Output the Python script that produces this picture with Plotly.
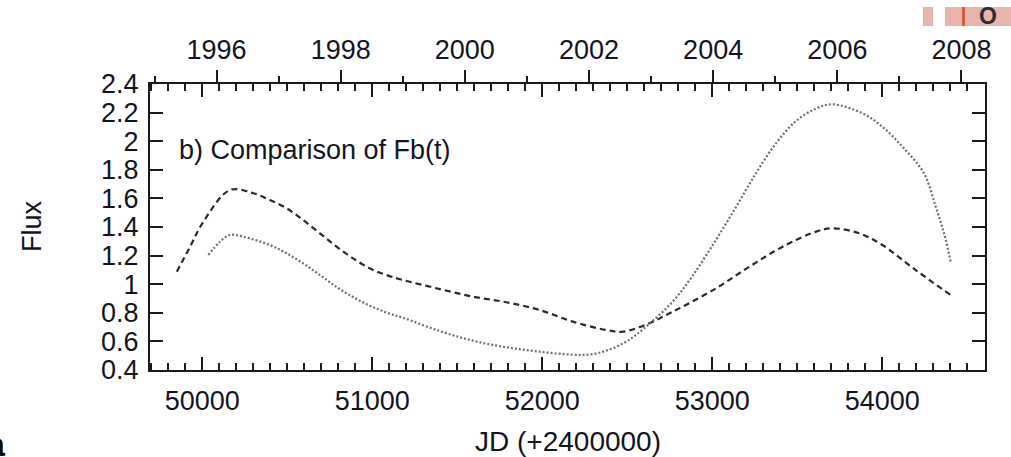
import datetime as dt
import plotly.graph_objects as go

# ---- data ----
jd_dashed = [49850, 49928, 50006, 50163, 50300, 50397, 50496, 50593, 50692, 50790,
             50887, 50985, 51083, 51181, 51397, 51592, 51788, 51984, 52180, 52376,
             52474, 52630, 52729, 52826, 53022, 53218, 53414, 53610, 53707, 53864,
             54001, 54197, 54403]
flux_dashed = [1.087, 1.262, 1.437, 1.659, 1.636, 1.589, 1.531, 1.449, 1.356, 1.262,
               1.181, 1.111, 1.064, 1.029, 0.966, 0.913, 0.874, 0.82, 0.738, 0.68,
               0.668, 0.727, 0.785, 0.843, 0.971, 1.122, 1.262, 1.367, 1.391, 1.356,
               1.274, 1.099, 0.924]

jd_dotted = [50035, 50104, 50163, 50241, 50397, 50496, 50593, 50692, 50790, 50887,
             50985, 51083, 51181, 51397, 51592, 51788, 51984, 52180, 52278, 52376,
             52493, 52611, 52767, 52885, 53022, 53140, 53257, 53375, 53492, 53610,
             53707, 53884, 54001, 54119, 54246, 54315, 54364, 54403]
flux_dotted = [1.204, 1.297, 1.344, 1.332, 1.274, 1.216, 1.146, 1.064, 0.98, 0.91,
               0.85, 0.802, 0.765, 0.672, 0.605, 0.559, 0.528, 0.507, 0.508, 0.535,
               0.598, 0.703, 0.878, 1.06, 1.31, 1.54, 1.775, 1.985, 2.14, 2.228,
               2.258, 2.195, 2.101, 1.962, 1.775, 1.542, 1.356, 1.157]

major_years = [1996, 1998, 2000, 2002, 2004, 2006, 2008]
minor_years = [1995, 1997, 1999, 2001, 2003, 2005, 2007]

x_range = [49692, 54605]
y_range = [0.4, 2.4]


def year_to_jd(y):
    # JD - 2400000 at 1 Jan of year y  (MJD + 0.5)
    return (dt.date(y, 1, 1) - dt.date(1858, 11, 17)).days + 0.5


FONT = "Liberation Sans, Arial, sans-serif"
TXT = "#14141f"

fig = go.Figure()
fig.add_trace(go.Scatter(x=jd_dashed, y=flux_dashed, mode="lines",
                         line=dict(color="#2a2a2a", width=2.2, dash="6px,4px",
                                   shape="spline", smoothing=1.0),
                         hoverinfo="skip", showlegend=False))
fig.add_trace(go.Scatter(x=jd_dotted, y=flux_dotted, mode="lines",
                         line=dict(color="#6e6e6e", width=2.2, dash="2px,2px",
                                   shape="spline", smoothing=1.0),
                         hoverinfo="skip", showlegend=False))
# invisible copy so the top (year) axis is drawn
fig.add_trace(go.Scatter(x=jd_dashed, y=flux_dashed, mode="lines", xaxis="x2",
                         line=dict(width=0), opacity=0, hoverinfo="skip", showlegend=False))

fig.update_layout(
    width=1011, height=457,
    margin=dict(l=150, r=26, t=84, b=87),
    paper_bgcolor="white", plot_bgcolor="white",
    font=dict(family=FONT, size=27, color=TXT),
    xaxis=dict(range=x_range, showgrid=False, zeroline=False,
               showline=True, linewidth=2, linecolor="#1a1a1a", mirror="ticks",
               ticks="inside", ticklen=13, tickwidth=2, tickcolor="#1a1a1a",
               tick0=0, dtick=1000, tickformat="d", ticklabelstandoff=6,
               minor=dict(ticks="inside", ticklen=7, tickwidth=2, dtick=100, tick0=0,
                          tickcolor="#1a1a1a"),
               tickfont=dict(size=27, color=TXT)),
    xaxis2=dict(overlaying="x", side="top", anchor="y", matches="x",
                showgrid=False, zeroline=False, showline=False,
                tickmode="array", tickvals=[year_to_jd(y) for y in major_years],
                ticktext=[str(y) for y in major_years],
                ticks="outside", ticklen=13, tickwidth=2, tickcolor="#1a1a1a",
                minor=dict(ticks="outside", ticklen=7, tickwidth=2, tickcolor="#1a1a1a",
                           tickmode="array", tickvals=[year_to_jd(y) for y in minor_years]),
                tickfont=dict(size=27, color=TXT)),
    yaxis=dict(range=y_range, showgrid=False, zeroline=False,
               showline=True, linewidth=2, linecolor="#1a1a1a", mirror="ticks",
               ticks="inside", ticklen=13, tickwidth=2, tickcolor="#1a1a1a",
               tick0=0.4, dtick=0.2, ticklabelstandoff=4,
               tickfont=dict(size=27, color=TXT)),
)

ann = [
    dict(text="b) Comparison of Fb(t)", xref="paper", yref="paper",
         x=(177 - 150) / 835, y=(370 - 150) / 286, xanchor="left", yanchor="middle",
         showarrow=False, font=dict(size=27, color=TXT)),
    dict(text="Flux", xref="paper", yref="paper", textangle=-90,
         x=(32 - 150) / 835, y=(370 - 226) / 286, xanchor="center", yanchor="middle",
         showarrow=False, font=dict(size=27, color=TXT)),
    dict(text="JD (+2400000)", xref="paper", yref="paper",
         x=0.5, y=(370 - 441) / 286, xanchor="center", yanchor="middle",
         showarrow=False, font=dict(size=28, color=TXT)),
    dict(text="<b>a</b>", xref="paper", yref="paper",
         x=(8 - 150) / 835, y=(370 - 444) / 286, xanchor="right", yanchor="middle",
         showarrow=False, font=dict(size=34, color="black")),
    dict(text="<b>O</b>", xref="paper", yref="paper",
         x=(988 - 150) / 835, y=(370 - 16) / 286, xanchor="center", yanchor="middle",
         showarrow=False, font=dict(size=23, color="#2b2b38")),
]
fig.update_layout(annotations=ann)


def px_rect(x0, y0, x1, y1, color):
    return dict(type="rect", xref="paper", yref="paper",
                x0=(x0 - 150) / 835, x1=(x1 - 150) / 835,
                y0=(370 - y0) / 286, y1=(370 - y1) / 286,
                fillcolor=color, line=dict(width=0), layer="below")


fig.update_layout(shapes=[
    px_rect(923, 7, 933, 26, "#e8b5ad"),
    px_rect(945, 7, 1011, 26, "#e8b5ad"),
    px_rect(962, 7, 965, 26, "#d65a3c"),
])

fig.write_html("out.html", config={"displayModeBar": False},
               post_script="document.body.style.margin='0px';")
